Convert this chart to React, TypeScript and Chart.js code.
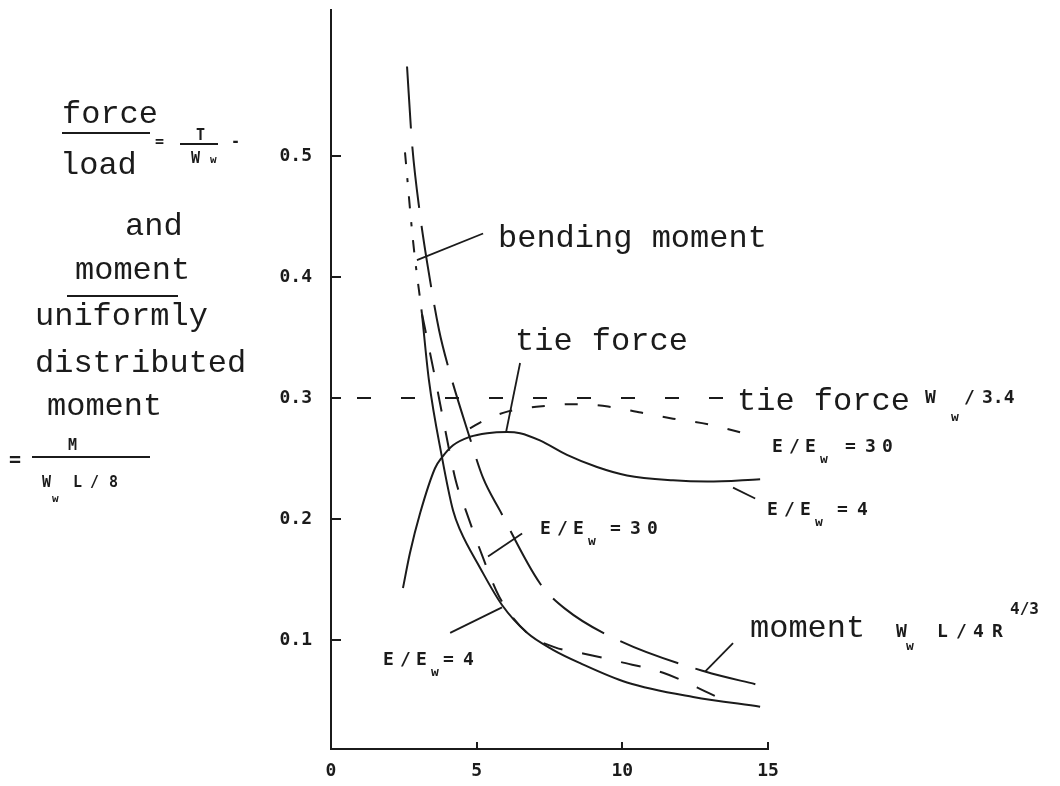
import React, { useEffect, useRef } from 'react';
import { Chart, registerables } from 'chart.js';

Chart.register(...registerables);

// ---- data (x = ratio on horizontal axis, y = force/load or moment ratio) ----
const xTickValues = [0, 5, 10, 15];
const yTickValues = [0.1, 0.2, 0.3, 0.4, 0.5];

const bendingMomentTop: [number, number][] = [[2.54, 0.503], [2.82, 0.429], [3.12, 0.37]];
const momentE4: [number, number][] = [
  [3.12, 0.37], [3.36, 0.315], [3.81, 0.251], [4.19, 0.207], [4.43, 0.191], [5.11, 0.16],
  [5.87, 0.129], [6.73, 0.106], [7.62, 0.092], [8.55, 0.081], [10.16, 0.065], [12.43, 0.053], [14.73, 0.045],
];
const momentE30: [number, number][] = [
  [3.12, 0.37], [3.57, 0.317], [3.91, 0.275], [4.29, 0.231], [4.63, 0.207], [5.25, 0.166],
  [5.77, 0.136], [6.73, 0.106], [7.69, 0.094], [8.65, 0.089], [9.92, 0.082], [11.4, 0.073],
  [12.56, 0.061], [13.59, 0.049],
];
const momentFormula: [number, number][] = [
  [2.61, 0.574], [2.78, 0.511], [3.06, 0.451], [3.3, 0.412], [3.71, 0.356], [4.02, 0.326],
  [4.74, 0.269], [5.22, 0.234], [5.8, 0.207], [7.17, 0.147], [8.03, 0.126], [9.85, 0.1],
  [12.84, 0.074], [14.66, 0.063],
];
const tieForceE4: [number, number][] = [
  [2.47, 0.143], [2.71, 0.172], [3.06, 0.205], [3.57, 0.242], [3.81, 0.251], [4.19, 0.261],
  [4.77, 0.268], [5.36, 0.271], [6.04, 0.272], [6.49, 0.271], [7.17, 0.265], [8.1, 0.253],
  [9.13, 0.243], [10.16, 0.236], [11.74, 0.232], [12.91, 0.231], [14.73, 0.233],
];
const tieForceE30: [number, number][] = [
  [4.77, 0.275], [5.29, 0.282], [6.08, 0.289], [7.14, 0.293], [8.38, 0.295], [9.51, 0.293],
  [10.64, 0.288], [11.74, 0.283], [13.01, 0.278], [14.31, 0.27],
];
const tieForceFormula: [number, number][] = [[0, 0.3], [13.5, 0.3]];

// leader lines of the annotations, in data units
const leaders: [number, number, number, number][] = [
  [2.95, 0.414, 5.22, 0.436],
  [6.49, 0.329, 6.01, 0.272],
  [5.39, 0.169, 6.56, 0.188],
  [4.09, 0.106, 5.87, 0.127],
  [13.8, 0.226, 14.56, 0.217],
  [12.84, 0.074, 13.8, 0.0975],
];

const INK = '#1b1b1b';
const MONO = "32px 'Liberation Mono'";
const SANS = "bold 18px 'DejaVu Sans Mono'";
const SANS_SUB = "bold 13px 'DejaVu Sans Mono'";

const toPts = (a: [number, number][]) => a.map(([x, y]) => ({ x, y }));

function eRatio(ctx: CanvasRenderingContext2D, x: number, y: number, value: string, eqOff: number) {
  ctx.font = SANS;
  ctx.fillText('E', x, y);
  ctx.fillText('/', x + 17, y);
  ctx.fillText('E', x + 33, y);
  ctx.font = SANS_SUB;
  ctx.fillText('w', x + 48, y + 11);
  ctx.font = SANS;
  ctx.fillText('=', x + eqOff, y);
  let cx = x + eqOff + 20;
  for (const ch of value) {
    ctx.fillText(ch, cx, y);
    cx += 17;
  }
}

const annotate = {
  id: 'annotate',
  afterDatasetsDraw(chart: any) {
    const ctx: CanvasRenderingContext2D = chart.ctx;
    const xs = chart.scales.x;
    const ys = chart.scales.y;
    const { left, bottom } = chart.chartArea;
    ctx.save();
    ctx.strokeStyle = INK;
    ctx.fillStyle = INK;
    ctx.lineWidth = 2;
    // inward tick marks
    for (const v of yTickValues) {
      const py = Math.round(ys.getPixelForValue(v));
      ctx.beginPath();
      ctx.moveTo(left, py);
      ctx.lineTo(left + 10, py);
      ctx.stroke();
    }
    for (const v of xTickValues.slice(1)) {
      const px = Math.round(xs.getPixelForValue(v));
      ctx.beginPath();
      ctx.moveTo(px, bottom);
      ctx.lineTo(px, bottom - 7);
      ctx.stroke();
    }
    // leader lines
    ctx.lineWidth = 1.8;
    for (const [x1, y1, x2, y2] of leaders) {
      ctx.beginPath();
      ctx.moveTo(xs.getPixelForValue(x1), ys.getPixelForValue(y1));
      ctx.lineTo(xs.getPixelForValue(x2), ys.getPixelForValue(y2));
      ctx.stroke();
    }
    // plot labels
    ctx.textBaseline = 'alphabetic';
    ctx.textAlign = 'left';
    ctx.font = MONO;
    ctx.fillText('bending moment', 498, 247);
    ctx.fillText('tie force', 515, 350);
    ctx.fillText('tie force', 737, 410);
    ctx.fillText('moment', 750, 637);

    ctx.font = SANS;
    ctx.fillText('W', 925, 403);
    ctx.fillText('/', 964, 403);
    ctx.fillText('3.4', 982, 403);
    ctx.font = SANS_SUB;
    ctx.fillText('w', 951, 421);

    ctx.font = SANS;
    ctx.fillText('W', 896, 637);
    ctx.fillText('L', 937, 637);
    ctx.fillText('/', 956, 637);
    ctx.fillText('4', 973, 637);
    ctx.fillText('R', 992, 637);
    ctx.font = SANS_SUB;
    ctx.fillText('w', 906, 650);
    ctx.font = "bold 16px 'DejaVu Sans Mono'";
    ctx.fillText('4/3', 1010, 614);

    eRatio(ctx, 772, 452, '30', 73);
    eRatio(ctx, 767, 515, '4', 70);
    eRatio(ctx, 540, 534, '30', 70);
    eRatio(ctx, 383, 665, '4', 60);

    // left-hand axis title
    ctx.font = MONO;
    ctx.fillText('force', 62, 123);
    ctx.fillText('load', 60, 174);
    ctx.fillText('and', 125, 235);
    ctx.fillText('moment', 75, 279);
    ctx.fillText('uniformly', 35, 325);
    ctx.fillText('distributed', 35, 372);
    ctx.fillText('moment', 47, 415);
    ctx.lineWidth = 2;
    const hline = (x1: number, x2: number, y: number) => {
      ctx.beginPath();
      ctx.moveTo(x1, y);
      ctx.lineTo(x2, y);
      ctx.stroke();
    };
    hline(62, 150, 133);
    hline(67, 178, 296);
    hline(180, 218, 144);
    hline(32, 150, 457);
    ctx.font = "bold 15px 'DejaVu Sans Mono'";
    ctx.fillText('=', 155, 146);
    ctx.fillText('T', 196, 140);
    ctx.fillText('W', 191, 163);
    ctx.fillText('-', 231, 146);
    ctx.fillText('M', 68, 450);
    ctx.fillText('W', 42, 487);
    ctx.fillText('L', 73, 487);
    ctx.fillText('/', 90, 487);
    ctx.fillText('8', 109, 487);
    ctx.font = "bold 11px 'DejaVu Sans Mono'";
    ctx.fillText('w', 210, 163);
    ctx.fillText('w', 52, 502);
    ctx.font = "bold 20px 'DejaVu Sans Mono'";
    ctx.fillText('=', 9, 466);
    ctx.restore();
  },
};

export default function App() {
  const ref = useRef<HTMLCanvasElement | null>(null);
  useEffect(() => {
    if (!ref.current) return;
    const line = (data: [number, number][], dash: number[], offset = 0) => ({
      data: toPts(data),
      borderColor: INK,
      borderWidth: 2,
      borderDash: dash,
      borderDashOffset: offset,
      pointRadius: 0,
      fill: false,
      cubicInterpolationMode: 'monotone' as const,
    });
    const chart = new Chart(ref.current, {
      type: 'line',
      data: {
        datasets: [
          { label: 'bending moment', ...line(bendingMomentTop, [12, 14, 4, 14]) },
          { label: 'moment E/Ew = 4', ...line(momentE4, []) },
          { label: 'moment E/Ew = 30', ...line(momentE30, [20, 20]) },
          { label: 'moment Ww L/4R^4/3', ...line(momentFormula, [62, 18]) },
          { label: 'tie force E/Ew = 4', ...line(tieForceE4, []) },
          { label: 'tie force E/Ew = 30', ...line(tieForceE30, [13, 20]) },
          { label: 'tie force Ww/3.4', ...line(tieForceFormula, [14, 30], 18) },
        ],
      },
      options: {
        animation: false,
        responsive: false,
        events: [],
        layout: { padding: { left: 0, top: 10, right: 292, bottom: 0 } },
        plugins: { legend: { display: false }, tooltip: { enabled: false } },
        scales: {
          x: {
            type: 'linear',
            min: 0,
            max: 15,
            grid: { display: false, drawTicks: false },
            border: { display: true, color: INK, width: 2 },
            afterBuildTicks: (s: any) => { s.ticks = xTickValues.map((v) => ({ value: v })); },
            afterFit: (s: any) => { s.height = 37; s.paddingLeft = 0; s.paddingRight = 0; },
            ticks: {
              padding: 12,
              color: INK,
              font: { family: 'DejaVu Sans Mono', size: 18, weight: 'bold' },
              callback: (v: any) => String(v),
              maxRotation: 0,
            },
          },
          y: {
            type: 'linear',
            min: 0.01,
            max: 0.6207,
            grid: { display: false, drawTicks: false },
            border: { display: true, color: INK, width: 2 },
            afterBuildTicks: (s: any) => { s.ticks = yTickValues.map((v) => ({ value: v })); },
            afterFit: (s: any) => { s.width = 331; s.paddingTop = 0; s.paddingBottom = 0; },
            ticks: {
              padding: 19,
              color: INK,
              font: { family: 'DejaVu Sans Mono', size: 18, weight: 'bold' },
              callback: (v: any) => Number(v).toFixed(1),
            },
          },
        },
      },
      plugins: [annotate],
    });
    return () => chart.destroy();
  }, []);
  return (
    <div style={{ position: 'absolute', left: 0, top: 0, width: 1060, height: 786, background: '#fff' }}>
      <canvas ref={ref} width={1060} height={786} style={{ display: 'block' }} />
    </div>
  );
}
